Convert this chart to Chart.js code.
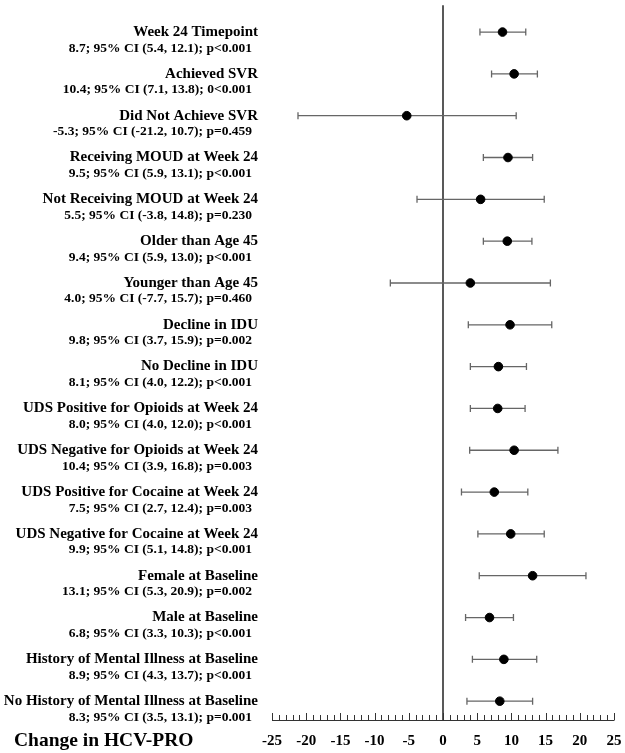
<!DOCTYPE html>
<html>
<head>
<meta charset="utf-8">
<script src="https://cdn.jsdelivr.net/npm/chart.js@4.4.0/dist/chart.umd.min.js"></script>
<style>
html,body{margin:0;padding:0;background:#fff;}
#wrap{width:625px;height:753px;position:relative;}
</style>
</head>
<body>
<div id="wrap"><canvas id="c"></canvas></div>
<script>
const titles = [
  "Week 24 Timepoint",
  "Achieved SVR",
  "Did Not Achieve SVR",
  "Receiving MOUD at Week 24",
  "Not Receiving MOUD at Week 24",
  "Older than Age 45",
  "Younger than Age 45",
  "Decline in IDU",
  "No Decline in IDU",
  "UDS Positive for Opioids at Week 24",
  "UDS Negative for Opioids at Week 24",
  "UDS Positive for Cocaine at Week 24",
  "UDS Negative for Cocaine at Week 24",
  "Female at Baseline",
  "Male at Baseline",
  "History of Mental Illness at Baseline",
  "No History of Mental Illness at Baseline"
];
const subtitles = [
  "8.7; 95% CI (5.4, 12.1); p<0.001",
  "10.4; 95% CI (7.1, 13.8); 0<0.001",
  "-5.3; 95% CI (-21.2, 10.7); p=0.459",
  "9.5; 95% CI (5.9, 13.1); p<0.001",
  "5.5; 95% CI (-3.8, 14.8); p=0.230",
  "9.4; 95% CI (5.9, 13.0); p<0.001",
  "4.0; 95% CI (-7.7, 15.7); p=0.460",
  "9.8; 95% CI (3.7, 15.9); p=0.002",
  "8.1; 95% CI (4.0, 12.2); p<0.001",
  "8.0; 95% CI (4.0, 12.0); p<0.001",
  "10.4; 95% CI (3.9, 16.8); p=0.003",
  "7.5; 95% CI (2.7, 12.4); p=0.003",
  "9.9; 95% CI (5.1, 14.8); p<0.001",
  "13.1; 95% CI (5.3, 20.9); p=0.002",
  "6.8; 95% CI (3.3, 10.3); p<0.001",
  "8.9; 95% CI (4.3, 13.7); p<0.001",
  "8.3; 95% CI (3.5, 13.1); p=0.001"
];
const estimates = [8.7, 10.4, -5.3, 9.5, 5.5, 9.4, 4.0, 9.8, 8.1, 8.0, 10.4, 7.5, 9.9, 13.1, 6.8, 8.9, 8.3];
const lowers    = [5.4, 7.1, -21.2, 5.9, -3.8, 5.9, -7.7, 3.7, 4.0, 4.0, 3.9, 2.7, 5.1, 5.3, 3.3, 4.3, 3.5];
const uppers    = [12.1, 13.8, 10.7, 13.1, 14.8, 13.0, 15.7, 15.9, 12.2, 12.0, 16.8, 12.4, 14.8, 20.9, 10.3, 13.7, 13.1];
const xTickLabels = ["-25","-20","-15","-10","-5","0","5","10","15","20","25"];
const axisTitle = "Change in HCV-PRO";

const SERIF = '"Liberation Serif", "Times New Roman", serif';

const points = estimates.map((v, i) => ({x: v, y: i}));

const forestPlugin = {
  id: 'forest',
  beforeDatasetsDraw(chart) {
    const ctx = chart.ctx;
    const xs = chart.scales.x, ys = chart.scales.y;
    const area = chart.chartArea;
    ctx.save();
    const x0 = xs.getPixelForValue(0);
    ctx.strokeStyle = '#222';
    ctx.lineWidth = 1.5;
    ctx.beginPath();
    ctx.moveTo(x0, area.top);
    ctx.lineTo(x0, area.bottom);
    ctx.stroke();
    ctx.strokeStyle = '#333';
    ctx.lineWidth = 1;
    ctx.beginPath();
    ctx.moveTo(xs.getPixelForValue(-25), area.bottom + 0.5);
    ctx.lineTo(xs.getPixelForValue(25), area.bottom + 0.5);
    ctx.stroke();
    xs.ticks.forEach(t => {
      const px = Math.round(xs.getPixelForValue(t.value)) + 0.5;
      const len = (t.value % 5 === 0) ? 7 : 5;
      ctx.beginPath();
      ctx.moveTo(px, area.bottom + 0.5);
      ctx.lineTo(px, area.bottom - len);
      ctx.stroke();
    });
    ctx.strokeStyle = '#666';
    ctx.lineWidth = 1.3;
    for (let i = 0; i < estimates.length; i++) {
      const y = ys.getPixelForValue(i);
      const xl = xs.getPixelForValue(lowers[i]);
      const xu = xs.getPixelForValue(uppers[i]);
      ctx.beginPath();
      ctx.moveTo(xl, y); ctx.lineTo(xu, y);
      ctx.moveTo(xl, y - 3.5); ctx.lineTo(xl, y + 3.5);
      ctx.moveTo(xu, y - 3.5); ctx.lineTo(xu, y + 3.5);
      ctx.stroke();
    }
    ctx.restore();
  },
  afterDraw(chart) {
    const ctx = chart.ctx;
    const ys = chart.scales.y;
    ctx.save();
    ctx.fillStyle = '#000';
    ctx.textAlign = 'right';
    ctx.textBaseline = 'middle';
    for (let i = 0; i < titles.length; i++) {
      const y = ys.getPixelForValue(i);
      ctx.font = 'bold 15px ' + SERIF;
      ctx.fillText(titles[i], 258, y);
      ctx.font = 'bold 13.5px ' + SERIF;
      ctx.fillText(subtitles[i], 252, y + 16);
    }
    ctx.textAlign = 'left';
    ctx.font = 'bold 19.5px ' + SERIF;
    ctx.fillText(axisTitle, 14, 741);
    ctx.restore();
  }
};

new Chart(document.getElementById('c'), {
  type: 'scatter',
  data: {
    datasets: [{
      data: points,
      backgroundColor: '#000',
      borderColor: '#000',
      pointRadius: 4.3,
      pointHoverRadius: 4.3,
      pointStyle: 'circle'
    }]
  },
  options: {
    responsive: true,
    maintainAspectRatio: false,
    animation: false,
    events: [],
    layout: {padding: {left: 272, right: 11, top: 4, bottom: 0}},
    plugins: {legend: {display: false}, tooltip: {enabled: false}},
    scales: {
      x: {
        type: 'linear',
        min: -25, max: 25,
        grid: {display: false, drawTicks: false},
        border: {display: false},
        afterFit: (scale) => { scale.height = 33; scale.paddingLeft = 0; scale.paddingRight = 0; },
        ticks: {
          stepSize: 1,
          autoSkip: false,
          maxRotation: 0,
          padding: 12,
          color: '#000',
          font: {family: SERIF, size: 15, weight: 'bold'},
          callback: (v) => {
            const idx = (v + 25) / 5;
            return (Number.isInteger(idx) && xTickLabels[idx] !== undefined) ? xTickLabels[idx] : '';
          }
        }
      },
      y: {
        type: 'linear',
        display: false,
        reverse: true,
        min: -0.64, max: 16.45
      }
    }
  },
  plugins: [forestPlugin]
});
</script>
</body>
</html>
